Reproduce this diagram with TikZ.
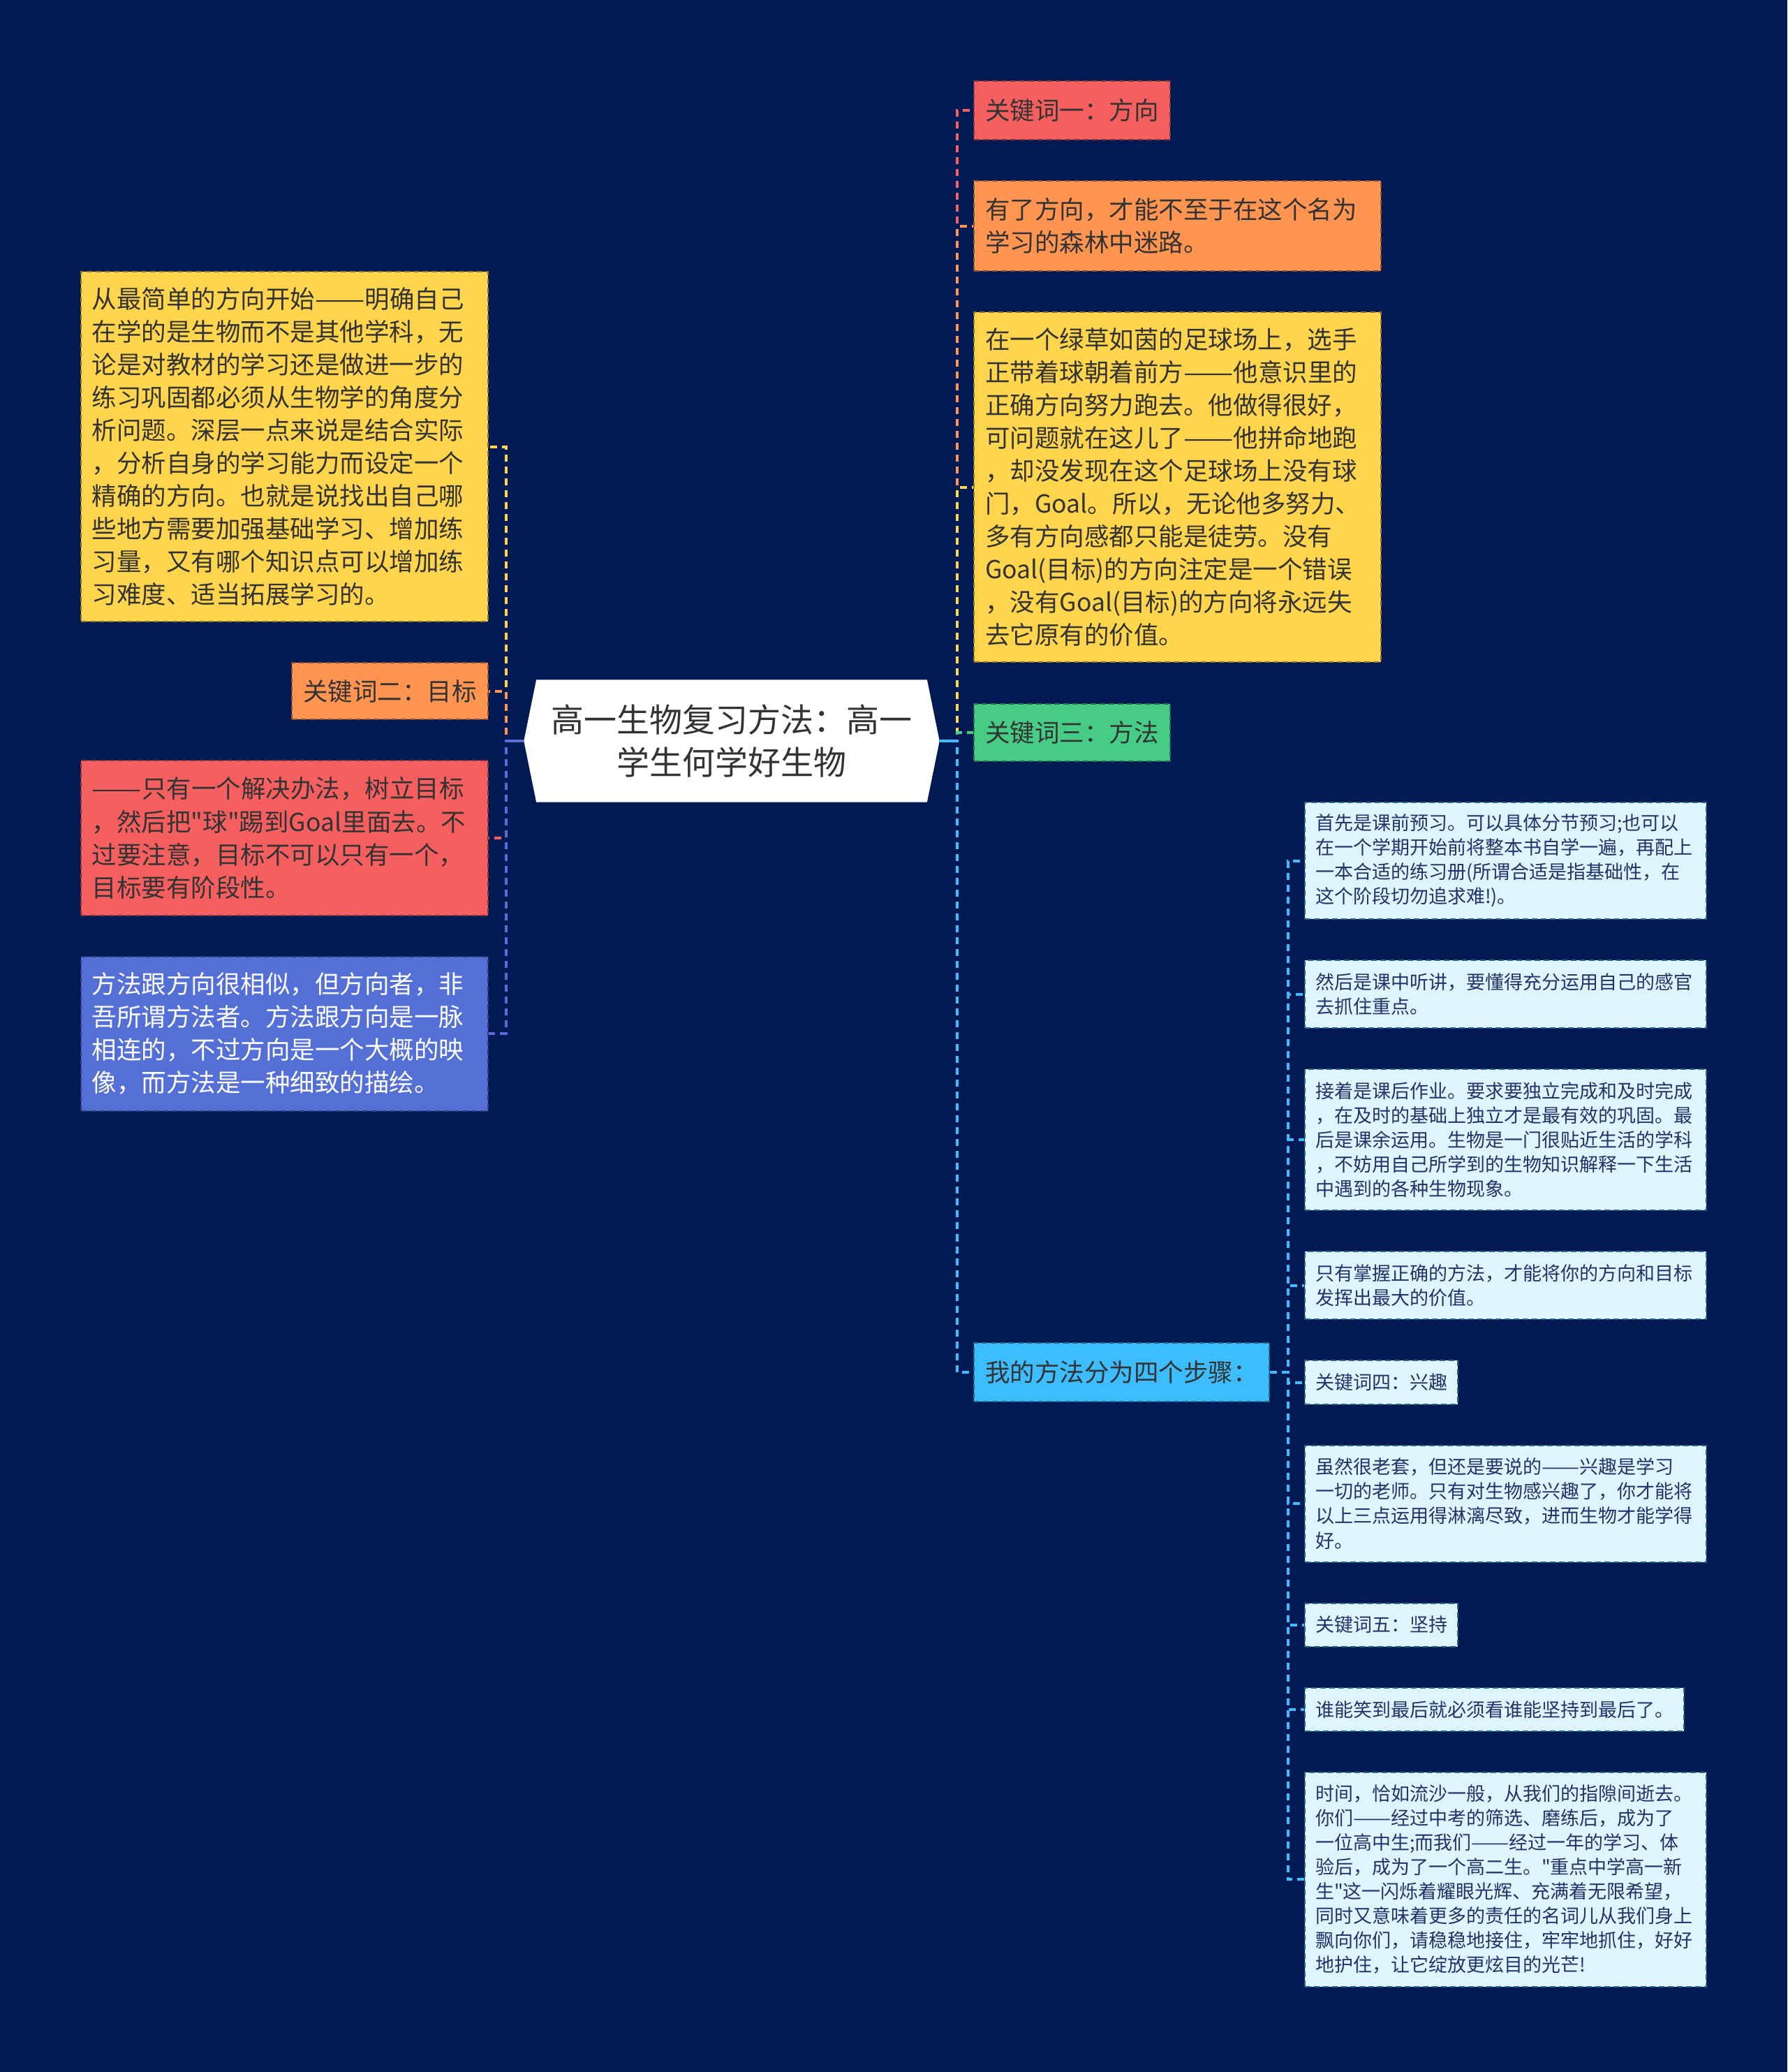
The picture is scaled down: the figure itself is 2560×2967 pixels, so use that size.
\documentclass[tikz,border=0pt]{standalone}
\usepackage{fontspec}
\setmainfont{Noto Sans CJK SC}[Ligatures=TeXOff]
\usepackage{graphicx}
\usepackage{tikz}
\usetikzlibrary{positioning, shapes.symbols}
\definecolor{bgNavy}{HTML}{021A54}
\definecolor{txtDark}{HTML}{333333}
\definecolor{cYel}{HTML}{FFD54D}
\definecolor{cOra}{HTML}{FF9551}
\definecolor{cRed}{HTML}{F55F5F}
\definecolor{cBlu}{HTML}{5470D6}
\definecolor{cGrn}{HTML}{47CC85}
\definecolor{cSky}{HTML}{3DBDFD}
\definecolor{leafFill}{HTML}{DFF5FE}
\definecolor{leafText}{HTML}{1F3468}
\newcommand{\lngdash}{\scalebox{1.2}[1]{——}}

\begin{document}
\begin{tikzpicture}[x=0.01cm, y=-0.01cm, node distance=0.57cm,
  box/.style={line width=0.02cm, dash pattern=on 0.08cm off 0.05cm, inner xsep=0.16cm, inner ysep=0pt, align=left, text=txtDark, font=\fontsize{10.1pt}{13.37pt}\selectfont},
  para/.style={box, text width=5.51cm},
  key/.style={box, align=center},
  leaf/.style={box, fill=leafFill, draw=cSky!55!black, text=leafText, inner xsep=0.15cm, font=\fontsize{7.68pt}{9.96pt}\selectfont},
  longleaf/.style={leaf, text width=5.45cm},
  conn/.style={line width=0.04cm, dash pattern=on 0.1cm off 0.07cm},
  root/.style={shape=signal, signal to=east and west, signal pointer angle=157, fill=white, minimum width=5.95cm, minimum height=1.75cm, inner sep=0pt, align=center, text=txtDark, font=\fontsize{13.37pt}{17.07pt}\selectfont}]
\fill[bgNavy] (0,0) rectangle (2560,2967);
\node[root] (ctr) at (1048,1061) {高一生物复习方法：高一\\学生何学好生物};
% left side
\node[para, fill=cYel, draw=cYel!55!black, minimum height=5.01cm, anchor=north east] (ly) at (700,388) {从最简单的方向开始\lngdash 明确自己\\在学的是生物而不是其他学科，无\\论是对教材的学习还是做进一步的\\练习巩固都必须从生物学的角度分\\析问题。深层一点来说是结合实际\\，分析自身的学习能力而设定一个\\精确的方向。也就是说找出自己哪\\些地方需要加强基础学习、增加练\\习量，又有哪个知识点可以增加练\\习难度、适当拓展学习的。};
\node[key, fill=cOra, draw=cOra!55!black, minimum height=0.81cm, below=of ly.south east, anchor=north east] (lk2) {关键词二：目标};
\node[para, fill=cRed, draw=cRed!55!black, minimum height=2.21cm, below=of lk2.south east, anchor=north east] (lr) {\lngdash 只有一个解决办法，树立目标\\，然后把"球"踢到Goal里面去。不\\过要注意，目标不可以只有一个，\\目标要有阶段性。};
\node[para, fill=cBlu, draw=cBlu!55!black, text=white, minimum height=2.21cm, below=of lr.south east, anchor=north east] (lb) {方法跟方向很相似，但方向者，非\\吾所谓方法者。方法跟方向是一脉\\相连的，不过方向是一个大概的映\\像，而方法是一种细致的描绘。};
% right side
\node[key, fill=cRed, draw=cRed!55!black, minimum height=0.84cm, anchor=north west] (rk1) at (1394,115) {关键词一：方向};
\node[para, fill=cOra, draw=cOra!55!black, minimum height=1.29cm, below=of rk1.south west, anchor=north west] (ro) {有了方向，才能不至于在这个名为\\学习的森林中迷路。};
\node[para, fill=cYel, draw=cYel!55!black, minimum height=5.01cm, below=of ro.south west, anchor=north west] (ry) {在一个绿草如茵的足球场上，选手\\正带着球朝着前方\lngdash 他意识里的\\正确方向努力跑去。他做得很好，\\可问题就在这儿了\lngdash 他拼命地跑\\，却没发现在这个足球场上没有球\\门，Goal。所以，无论他多努力、\\多有方向感都只能是徒劳。没有\\Goal(目标)的方向注定是一个错误\\，没有Goal(目标)的方向将永远失\\去它原有的价值。};
\node[key, fill=cGrn, draw=cGrn!55!black, minimum height=0.82cm, below=of ry.south west, anchor=north west] (rk3) {关键词三：方法};
\node[key, fill=cSky, draw=cSky!55!black, minimum height=0.84cm, anchor=north west] (rs) at (1394,1922) {我的方法分为四个步骤：};
% steps
\node[longleaf, minimum height=1.67cm, anchor=north west] (s1) at (1868,1148) {首先是课前预习。可以具体分节预习;也可以\\在一个学期开始前将整本书自学一遍，再配上\\一本合适的练习册(所谓合适是指基础性，在\\这个阶段切勿追求难!)。};
\node[longleaf, minimum height=0.97cm, below=of s1.south west, anchor=north west] (s2) {然后是课中听讲，要懂得充分运用自己的感官\\去抓住重点。};
\node[longleaf, minimum height=2.02cm, below=of s2.south west, anchor=north west] (s3) {接着是课后作业。要求要独立完成和及时完成\\，在及时的基础上独立才是最有效的巩固。最\\后是课余运用。生物是一门很贴近生活的学科\\，不妨用自己所学到的生物知识解释一下生活\\中遇到的各种生物现象。};
\node[longleaf, minimum height=0.97cm, below=of s3.south west, anchor=north west] (s4) {只有掌握正确的方法，才能将你的方向和目标\\发挥出最大的价值。};
\node[leaf, minimum height=0.62cm, below=of s4.south west, anchor=north west] (s5) {关键词四：兴趣};
\node[longleaf, minimum height=1.67cm, below=of s5.south west, anchor=north west] (s6) {虽然很老套，但还是要说的\lngdash 兴趣是学习\\一切的老师。只有对生物感兴趣了，你才能将\\以上三点运用得淋漓尽致，进而生物才能学得\\好。};
\node[leaf, minimum height=0.62cm, below=of s6.south west, anchor=north west] (s7) {关键词五：坚持};
\node[leaf, minimum height=0.62cm, below=of s7.south west, anchor=north west] (s8) {谁能笑到最后就必须看谁能坚持到最后了。};
\node[longleaf, minimum height=3.07cm, below=of s8.south west, anchor=north west] (s9) {时间，恰如流沙一般，从我们的指隙间逝去。\\你们\lngdash 经过中考的筛选、磨练后，成为了\\一位高中生;而我们\lngdash 经过一年的学习、体\\验后，成为了一个高二生。"重点中学高一新\\生"这一闪烁着耀眼光辉、充满着无限希望，\\同时又意味着更多的责任的名词儿从我们身上\\飘向你们，请稳稳地接住，牢牢地抓住，好好\\地护住，让它绽放更炫目的光芒!};
% connectors
\foreach \kid/\col in {ly/cYel, lk2/cOra, lr/cRed, lb/cBlu}
  \draw[conn, \col] (ctr.west) -- ++(-25,0) |- (\kid.east);
\draw[line width=0.04cm, cBlu] (ctr.west) -- ++(-25,0);
\foreach \kid/\col in {rk1/cRed, ro/cOra, ry/cYel, rk3/cGrn, rs/cSky}
  \draw[conn, \col] (ctr.east) -- ++(25,0) |- (\kid.west);
\draw[line width=0.04cm, cSky] (ctr.east) -- ++(25,0);
\foreach \i in {1,...,9}
  \draw[conn, cSky] (rs.east) -- ++(26,0) |- (s\i.west);
\end{tikzpicture}
\end{document}
